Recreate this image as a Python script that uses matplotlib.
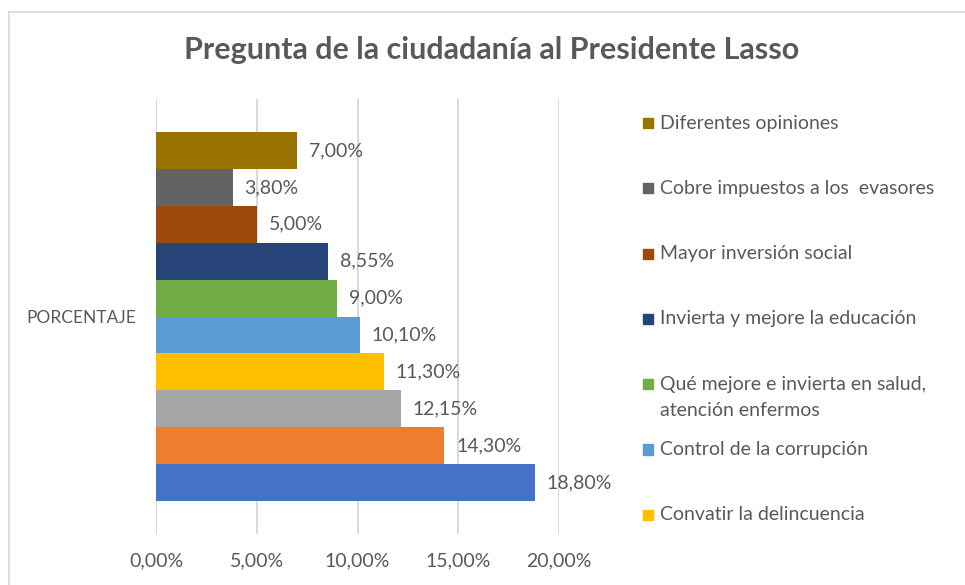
import matplotlib
matplotlib.use("Agg")
import matplotlib.pyplot as plt
from matplotlib.patches import Rectangle
from matplotlib.lines import Line2D
from matplotlib.ticker import FuncFormatter

plt.rcParams['font.family'] = ['Lato', 'DejaVu Sans']

# ---- data ----
title = "Pregunta de la ciudadanía al Presidente Lasso"
category = "PORCENTAJE"
# series 1..10, drawn bottom to top
values = [18.80, 14.30, 12.15, 11.30, 10.10, 9.00, 8.55, 5.00, 3.80, 7.00]
series_names = [None, None, None,
                "Convatir la delincuencia",
                "Control de la corrupción",
                "Qué mejore e invierta en salud,\natención enfermos",
                "Invierta y mejore la educación",
                "Mayor inversión social",
                "Cobre impuestos a los  evasores",
                "Diferentes opiniones"]
colors = ["#4472C4", "#ED7D31", "#A5A5A5", "#FFC000", "#5B9BD5",
          "#70AD47", "#264478", "#9E480E", "#636363", "#997300"]
xticks = [0, 5, 10, 15, 20]

TXT = "#595959"
GRID = "#D9D9D9"
W, H = 965, 585

fig = plt.figure(figsize=(W / 100, H / 100), dpi=100)

def fx(px):
    return px / W

def fy(py):
    return 1 - py / H

ax = fig.add_axes([fx(156), fy(534), fx(559) - fx(156), fy(99) - fy(534)])

n = len(values)
group = 0.848
h = group / n
ys = [-group / 2 + (i + 0.5) * h for i in range(n)]
for i, (y, v, c) in enumerate(zip(ys, values, colors)):
    bars = ax.barh(y, v, height=h, color=c, zorder=3)
    ax.bar_label(bars, labels=[f"{v:.2f}%".replace(".", ",")], padding=8.6,
                 fontsize=14, color=TXT)

ax.set_xlim(0, 20)
ax.set_ylim(-0.5, 0.5)
ax.set_xticks(xticks)
ax.xaxis.set_major_formatter(FuncFormatter(lambda v, p: f"{v:.2f}%".replace(".", ",")))
ax.set_yticks([0])
ax.set_yticklabels([category])
ax.tick_params(axis='x', length=0, pad=13, labelsize=14, labelcolor=TXT)
ax.tick_params(axis='y', length=0, pad=14, labelsize=12.5, labelcolor=TXT)
ax.grid(axis='x', color=GRID, linewidth=1.4, zorder=0)
for s in ax.spines.values():
    s.set_visible(False)

fig.text(fx(492), fy(50), title, ha='center', va='center', fontsize=22,
         fontweight='bold', color=TXT)

# legend (reverse series order, only named series)
named = [i for i in range(n) if series_names[i] is not None][::-1]
for k, i in enumerate(named):
    yc = 123 + k * 65.3
    fig.patches.append(Rectangle((fx(643), fy(yc + 5)), fx(10), fy(yc - 5) - fy(yc + 5),
                                 transform=fig.transFigure, color=colors[i]))
    for j, line in enumerate(series_names[i].split("\n")):
        fig.text(fx(660), fy(yc + j * 26), line, ha='left', va='center',
                 fontsize=14, color=TXT)

# chart border
fig.add_artist(Line2D([fx(9), 1], [fy(12), fy(12)], transform=fig.transFigure,
                      color=GRID, linewidth=1.2))
fig.add_artist(Line2D([fx(9), fx(9)], [fy(12), 0], transform=fig.transFigure,
                      color=GRID, linewidth=1.2))

fig.savefig("out.png", dpi=100)
